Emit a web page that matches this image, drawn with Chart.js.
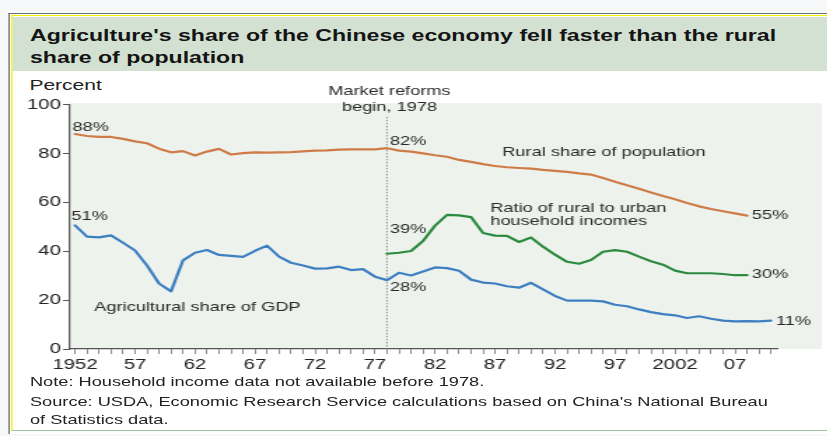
<!DOCTYPE html>
<html>
<head>
<meta charset="utf-8">
<script src="https://cdn.jsdelivr.net/npm/chart.js@4.4.1/dist/chart.umd.min.js"></script>
<style>
html, body { margin: 0; padding: 0; background: #f6f8fa; overflow: hidden; }
/* the source picture is stretched sideways, so the whole chart is drawn narrow and widened */
#wrap { position: absolute; left: 0; top: 0; width: 591px; height: 436px; transform: scaleX(1.4); transform-origin: 0 0;
        font-family: "Liberation Sans", Arial, sans-serif; }
.frame { position: absolute; left: 6.4px; top: 13.3px; width: 600px; height: 420px; border-top: 1.4px solid #707070; border-left: 1px solid #707070; background: #fff; }
.frame2 { position: absolute; left: 7.6px; top: 14.9px; width: 600px; height: 414.5px; border-top: 1.6px solid #f0f000; border-left: 1.1px solid #f0f000; border-bottom: 1.5px solid #9cc89c; background: #fff; }
.band { position: absolute; left: 9.1px; top: 17.3px; width: 600px; height: 54px; background: #d3e1d3; }
.title { position: absolute; left: 21.4px; top: 25.3px; font-size: 16.5px; line-height: 21.3px; font-weight: bold; color: #141414; white-space: nowrap; }
.unit { position: absolute; left: 21px; top: 75.8px; font-size: 15px; line-height: 18px; color: #222; }
.note { position: absolute; left: 21.4px; font-size: 13px; line-height: 18px; color: #222; white-space: nowrap; }
canvas { position: absolute; left: 0; top: 0; }
</style>
</head>
<body>
<div id="wrap">
  <div class="frame"></div>
  <div class="frame2"></div>
  <div class="band"></div>
  <div class="title">Agriculture's share of the Chinese economy fell faster than the rural<br>share of population</div>
  <div class="unit">Percent</div>
  <canvas id="chart" width="591" height="436" style="width:591px;height:436px"></canvas>
  <div class="note" style="top:373px">Note: Household income data not available before 1978.</div>
  <div class="note" style="top:393px">Source: USDA, Economic Research Service calculations based on China's National Bureau</div>
  <div class="note" style="top:411px">of Statistics data.</div>
</div>
<script>
// ===== Data =====
const popYears = [1952, 1953, 1954, 1955, 1956, 1957, 1958, 1959, 1960, 1961, 1962, 1963, 1964, 1965, 1966, 1967, 1968, 1969, 1970,
    1971, 1972, 1973, 1974, 1975, 1976, 1977, 1978, 1979, 1980, 1981, 1982, 1983, 1984, 1985, 1986, 1987, 1988, 1989, 1990,
    1991, 1992, 1993, 1994, 1995, 1996, 1997, 1998, 1999, 2000, 2001, 2002, 2003, 2004, 2005, 2006, 2007, 2008];
const ruralPop = [88.0, 87.2, 86.8, 86.8, 86.0, 85.0, 84.2, 82.0, 80.5, 81.0, 79.2, 80.8, 81.9, 79.6, 80.2, 80.5, 80.4, 80.5, 80.6,
    80.9, 81.2, 81.3, 81.6, 81.7, 81.7, 81.7, 82.2, 81.2, 80.8, 80.1, 79.3, 78.7, 77.4, 76.6, 75.7, 74.9, 74.4, 74.1, 73.8,
    73.3, 72.9, 72.5, 71.9, 71.4, 70.0, 68.5, 67.0, 65.6, 64.1, 62.6, 61.3, 59.8, 58.4, 57.3, 56.4, 55.5, 54.6];

const gdpYears = [1952, 1953, 1954, 1955, 1956, 1957, 1958, 1959, 1960, 1961, 1962, 1963, 1964, 1965, 1966, 1967, 1968, 1969, 1970,
    1971, 1972, 1973, 1974, 1975, 1976, 1977, 1978, 1979, 1980, 1981, 1982, 1983, 1984, 1985, 1986, 1987, 1988, 1989, 1990,
    1991, 1992, 1993, 1994, 1995, 1996, 1997, 1998, 1999, 2000, 2001, 2002, 2003, 2004, 2005, 2006, 2007, 2008, 2009, 2010];
const gdpShare = [50.6, 46.0, 45.7, 46.5, 43.5, 40.3, 34.2, 26.8, 23.6, 36.3, 39.4, 40.5, 38.5, 38.1, 37.7, 40.2, 42.3, 37.8, 35.3,
    34.2, 32.9, 33.0, 33.7, 32.3, 32.7, 29.6, 28.2, 31.2, 30.1, 31.7, 33.4, 33.1, 32.0, 28.4, 27.2, 26.8, 25.7, 25.1, 27.1,
    24.4, 21.7, 19.8, 19.8, 19.8, 19.5, 18.1, 17.5, 16.2, 15.1, 14.3, 13.8, 12.7, 13.4, 12.4, 11.6, 11.3, 11.4, 11.3, 11.6];

const incomeYears = [1978, 1979, 1980, 1981, 1982, 1983, 1984, 1985, 1986, 1987, 1988, 1989, 1990, 1991, 1992, 1993, 1994,
    1995, 1996, 1997, 1998, 1999, 2000, 2001, 2002, 2003, 2004, 2005, 2006, 2007, 2008];
const incomeRatio = [39.0, 39.4, 40.1, 44.2, 50.5, 54.9, 54.7, 54.0, 47.5, 46.4, 46.3, 43.8, 45.6, 41.9, 38.6, 35.7, 34.9,
    36.4, 39.8, 40.5, 39.8, 37.8, 35.9, 34.5, 32.1, 31.0, 31.0, 31.0, 30.7, 30.2, 30.2];

const yTicks = [0, 20, 40, 60, 80, 100];
const labelYears = { 1952: '1952', 1957: '57', 1962: '62', 1967: '67', 1972: '72', 1977: '77',
    1982: '82', 1987: '87', 1992: '92', 1997: '97', 2002: '2002', 2007: '07' };
const reformYear = 1978;

// text placed in data units (year, percent)
const annotations = [
    { text: 'Market reforms', x: 1978.2, y: 105.3, align: 'center' },
    { text: 'begin, 1978', x: 1978.2, y: 98.7, align: 'center' },
    { text: '88%', x: 1951.8, y: 90.9, align: 'left' },
    { text: '51%', x: 1951.7, y: 54.3, align: 'left' },
    { text: '82%', x: 1978.25, y: 84.8, align: 'left' },
    { text: '39%', x: 1978.25, y: 49.0, align: 'left' },
    { text: '28%', x: 1978.25, y: 25.2, align: 'left' },
    { text: '55%', x: 2008.4, y: 54.8, align: 'left' },
    { text: '30%', x: 2008.4, y: 30.4, align: 'left' },
    { text: '11%', x: 2010.4, y: 11.3, align: 'left' },
    { text: 'Rural share of population', x: 1987.6, y: 80.5, align: 'left' },
    { text: 'Ratio of rural to urban', x: 1986.6, y: 57.6, align: 'left' },
    { text: 'household incomes', x: 1986.6, y: 52.3, align: 'left' },
    { text: 'Agricultural share of GDP', x: 1953.6, y: 16.9, align: 'left' }
];

const pts = (xs, ys) => xs.map((x, i) => ({ x, y: ys[i] }));

// ===== Plugins =====
const plotBackground = {
    id: 'plotBackground',
    beforeDraw(chart) {
        const { ctx, chartArea } = chart;
        ctx.save();
        ctx.fillStyle = '#edf2ec';
        ctx.fillRect(chartArea.left, chartArea.top - 1.5, 587 - chartArea.left, chartArea.bottom - chartArea.top + 1.5);
        ctx.restore();
    }
};

const reformLine = {
    id: 'reformLine',
    beforeDatasetsDraw(chart) {
        const { ctx, chartArea, scales } = chart;
        const x = scales.x.getPixelForValue(reformYear);
        ctx.save();
        ctx.strokeStyle = '#8a8a8a';
        ctx.lineWidth = 0.9;
        ctx.setLineDash([1.5, 1.5]);
        ctx.beginPath();
        ctx.moveTo(x, scales.y.getPixelForValue(95));
        ctx.lineTo(x, chartArea.bottom);
        ctx.stroke();
        ctx.restore();
    }
};

const textLabels = {
    id: 'textLabels',
    afterDraw(chart) {
        const { ctx, scales } = chart;
        ctx.save();
        ctx.font = '13px "Liberation Sans", Arial, sans-serif';
        ctx.fillStyle = '#2a2a2a';
        ctx.textBaseline = 'middle';
        annotations.forEach(a => {
            ctx.textAlign = a.align;
            ctx.fillText(a.text, scales.x.getPixelForValue(a.x), scales.y.getPixelForValue(a.y));
        });
        ctx.restore();
    }
};

// ===== Chart =====
const tickFont = { family: '"Liberation Sans", Arial, sans-serif', size: 14.5 };

new Chart(document.getElementById('chart'), {
    type: 'line',
    data: {
        datasets: [
            { label: 'Rural share of population', data: pts(popYears, ruralPop), borderColor: '#cf7b47', borderWidth: 2.2 },
            { label: 'Ratio of rural to urban household incomes', data: pts(incomeYears, incomeRatio), borderColor: '#2b8a3e', borderWidth: 2.2 },
            { label: 'Agricultural share of GDP', data: pts(gdpYears, gdpShare), borderColor: '#3d7fc2', borderWidth: 2.2 }
        ]
    },
    options: {
        responsive: false,
        animation: false,
        devicePixelRatio: 1,
        layout: { padding: { left: 0, top: 104.7, right: 35.3, bottom: 52 } },
        elements: { point: { radius: 0 }, line: { tension: 0, borderCapStyle: 'round', borderJoinStyle: 'round' } },
        plugins: { legend: { display: false }, tooltip: { enabled: false } },
        scales: {
            x: {
                type: 'linear',
                min: 1951.5,
                max: 2010.58,
                afterFit: s => { s.height = 35; },
                border: { color: '#555', width: 1.2 },
                grid: { drawOnChartArea: false, tickLength: 5, color: '#8c8c8c', lineWidth: 1 },
                ticks: {
                    stepSize: 1,
                    includeBounds: false,
                    autoSkip: false,
                    maxRotation: 0,
                    padding: 2,
                    color: '#222',
                    font: tickFont,
                    callback: v => labelYears[v] || ''
                }
            },
            y: {
                min: 0,
                max: 100,
                afterFit: s => { s.width = 49.3; },
                afterBuildTicks: s => { s.ticks = yTicks.map(v => ({ value: v })); },
                border: { color: '#555', width: 1.2 },
                grid: { drawOnChartArea: false, tickLength: 4.3, color: '#555', lineWidth: 1 },
                ticks: { padding: 1.5, color: '#222', font: tickFont }
            }
        }
    },
    plugins: [plotBackground, reformLine, textLabels]
});
</script>
</body>
</html>
